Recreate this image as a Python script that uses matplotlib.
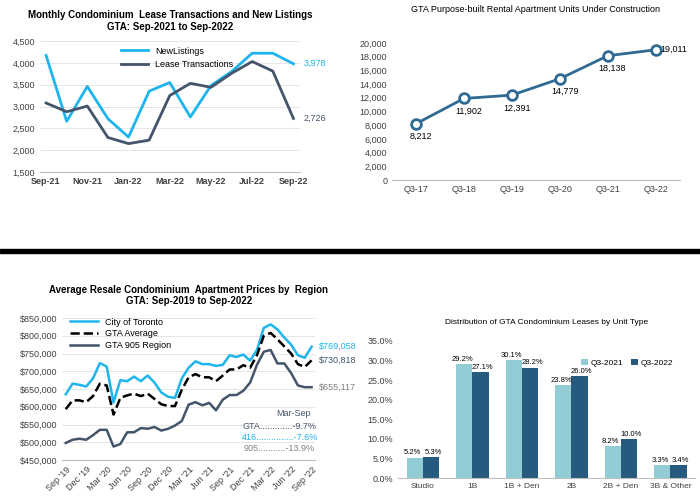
import matplotlib
matplotlib.use("Agg")
import matplotlib.pyplot as plt
from matplotlib.patches import Rectangle
from matplotlib.ticker import FuncFormatter, MultipleLocator
import numpy as np

plt.rcParams['font.family'] = ['Liberation Sans', 'DejaVu Sans']

# --- Top-left data
tl_months = ["Sep-21","Oct-21","Nov-21","Dec-21","Jan-22","Feb-22","Mar-22","Apr-22","May-22","Jun-22","Jul-22","Aug-22","Sep-22"]
new_listings = [4170,2660,3460,2720,2300,3350,3550,2760,3480,3800,4220,4220,3978]
lease_tx = [3080,2880,3010,2290,2150,2230,3250,3530,3440,3760,4030,3810,2726]

# --- Top-right data
tr_quarters = ["Q3-17","Q3-18","Q3-19","Q3-20","Q3-21","Q3-22"]
units = [8212,11902,12391,14779,18138,19011]

# --- Bottom-left data
bl_labels = ["Sep '19","Dec '19","Mar '20","Jun '20","Sep '20","Dec '20","Mar '21","Jun '21","Sep '21","Dec '21","Mar '22","Jun '22","Sep '22"]
toronto = [635,665,662,657,680,723,713,612,675,672,685,672,688,668,640,628,
           625,680,710,728,720,720,715,718,745,740,747,730,760,822,832,818,795,775,745,738,769.058]
gta_avg = [593,618,618,613,630,665,660,578,625,632,637,630,637,622,607,602,
           602,648,683,692,683,683,672,688,705,705,717,710,745,800,808,790,770,750,720,712,730.818]
gta_905 = [498,507,510,507,520,535,535,488,495,528,528,540,538,543,533,538,
           547,560,606,613,604,611,590,620,633,633,645,668,718,755,760,722,722,695,660,655,655.117]

# --- Bottom-right data
unit_types = ["Studio","1B","1B + Den","2B","2B + Den","3B & Other"]
q3_2021 = [5.2,29.2,30.1,23.8,8.2,3.3]
q3_2022 = [5.3,27.1,28.2,26.0,10.0,3.4]

LB = "#1EB4EE"; DK = "#44546A"
fig = plt.figure(figsize=(7,5), dpi=100)
fs = 6.5

def style(ax):
    for s in ["top","right","left"]:
        ax.spines[s].set_visible(False)
    ax.spines["bottom"].set_color("#BFBFBF")
    ax.tick_params(length=0, labelsize=fs, colors="#404040")
    ax.grid(axis="y", color="#E0E0E0", lw=0.6)
    ax.set_axisbelow(True)

# Top-left
ax = fig.add_axes([0.057,0.656,0.371,0.262])
style(ax)
x = range(len(tl_months))
ax.plot(x, new_listings, color=LB, lw=2, label="NewListings")
ax.plot(x, lease_tx, color=DK, lw=2, label="Lease Transactions")
ax.set_ylim(1500,4500); ax.yaxis.set_major_locator(MultipleLocator(500))
ax.yaxis.set_major_formatter(FuncFormatter(lambda v,p: f"{v:,.0f}"))
ax.set_xticks(list(x)[::2]); ax.set_xticklabels(tl_months[::2], fontweight="bold")
ax.set_xlim(-0.3,12.3)
ax.text(12.5, new_listings[-1], f"{new_listings[-1]:,}", color=LB, fontsize=fs, va="center")
ax.text(12.5, lease_tx[-1], f"{lease_tx[-1]:,}", color=DK, fontsize=fs, va="center")
ax.legend(loc="upper left", bbox_to_anchor=(0.28,1.02), frameon=False, fontsize=fs, handlelength=3)
ax.set_title("Monthly Condominium  Lease Transactions and New Listings\nGTA: Sep-2021 to Sep-2022", fontsize=7, fontweight="bold", pad=8)

# Top-right
ax = fig.add_axes([0.56,0.64,0.411,0.274])
style(ax); ax.grid(False)
x = range(len(tr_quarters))
ax.plot(x, units, color="#2E6A94", lw=2, marker="o", ms=7, mfc="white", mew=2)
ax.set_ylim(0,20000); ax.yaxis.set_major_locator(MultipleLocator(2000))
ax.yaxis.set_major_formatter(FuncFormatter(lambda v,p: f"{v:,.0f}"))
ax.set_xticks(list(x)); ax.set_xticklabels(tr_quarters)
ax.set_xlim(-0.5,5.5)
for i,v in enumerate(units):
    if i == len(units)-1:
        ax.text(i+0.1, v, f"{v:,}", fontsize=fs, va="center")
    else:
        ax.text(i+0.1, v-1200, f"{v:,}", fontsize=fs, va="top", ha="center")
ax.set_title("GTA Purpose-built Rental Apartment Units Under Construction", fontsize=6.5, pad=22)

# Black band
fig.patches.append(Rectangle((0,0.495),1,0.008, transform=fig.transFigure, color="black"))

# Bottom-left
ax = fig.add_axes([0.089,0.08,0.361,0.284])
style(ax)
x = range(len(toronto))
ax.plot(x, toronto, color=LB, lw=1.8, label="City of Toronto")
ax.plot(x, gta_avg, color="black", lw=1.8, ls="--", label="GTA Average")
ax.plot(x, gta_905, color=DK, lw=1.8, label="GTA 905 Region")
ax.set_ylim(450,850); ax.yaxis.set_major_locator(MultipleLocator(50))
ax.yaxis.set_major_formatter(FuncFormatter(lambda v,p: f"${v*1000:,.0f}"))
ax.set_xticks(list(x)[::3]); ax.set_xticklabels(bl_labels, rotation=45, ha="right", rotation_mode="anchor")
ax.set_xlim(-0.5,36.5)
ax.text(37, toronto[-1], f"${toronto[-1]*1000:,.0f}", color=LB, fontsize=fs, va="center")
ax.text(37, gta_avg[-1], f"${gta_avg[-1]*1000:,.0f}", color=DK, fontsize=fs, va="center")
ax.text(37, gta_905[-1], f"${gta_905[-1]*1000:,.0f}", color="#7F7F7F", fontsize=fs, va="center")
ax.legend(loc="upper left", bbox_to_anchor=(0.0,1.06), frameon=False, fontsize=fs, handlelength=3, labelspacing=0.3)
ax.text(0.985,0.31,"Mar-Sep", transform=ax.transAxes, fontsize=fs, ha="right", color=DK)
ax.text(0.86,0.22,"GTA.............-9.7%", transform=ax.transAxes, fontsize=fs, ha="center", color=DK)
ax.text(0.86,0.14,"416...............-7.6%", transform=ax.transAxes, fontsize=fs, ha="center", color=LB)
ax.text(0.86,0.06,"905...........-13.9%", transform=ax.transAxes, fontsize=fs, ha="center", color="#7F7F7F")
ax.set_title("Average Resale Condominium  Apartment Prices by  Region\nGTA: Sep-2019 to Sep-2022", fontsize=7, fontweight="bold", pad=10)

# Bottom-right
ax = fig.add_axes([0.569,0.044,0.424,0.274])
style(ax); ax.grid(False)
xi = np.arange(len(unit_types)); w = 0.33
b1 = ax.bar(xi-w/2, q3_2021, w, color="#92CDD5", label="Q3-2021")
b2 = ax.bar(xi+w/2, q3_2022, w, color="#265A7E", label="Q3-2022")
for bars, dx in ((b1,-0.04),(b2,0.04)):
    for b in bars:
        ax.text(b.get_x()+b.get_width()/2+dx, b.get_height()+0.3, f"{b.get_height():.1f}%", ha="center", va="bottom", fontsize=5.5)
ax.set_ylim(0,35); ax.yaxis.set_major_locator(MultipleLocator(5))
ax.yaxis.set_major_formatter(FuncFormatter(lambda v,p: f"{v:.1f}%"))
ax.set_xticks(xi); ax.set_xticklabels(unit_types, fontsize=6)
ax.set_xlim(-0.5,5.5)
ax.legend(loc="upper right", bbox_to_anchor=(0.95,0.92), frameon=False, fontsize=6, ncol=2, handlelength=0.8, handletextpad=0.3, columnspacing=1)
ax.set_title("Distribution of GTA Condominium Leases by Unit Type", fontsize=6, pad=12)

fig.savefig("out.png", dpi=100)
